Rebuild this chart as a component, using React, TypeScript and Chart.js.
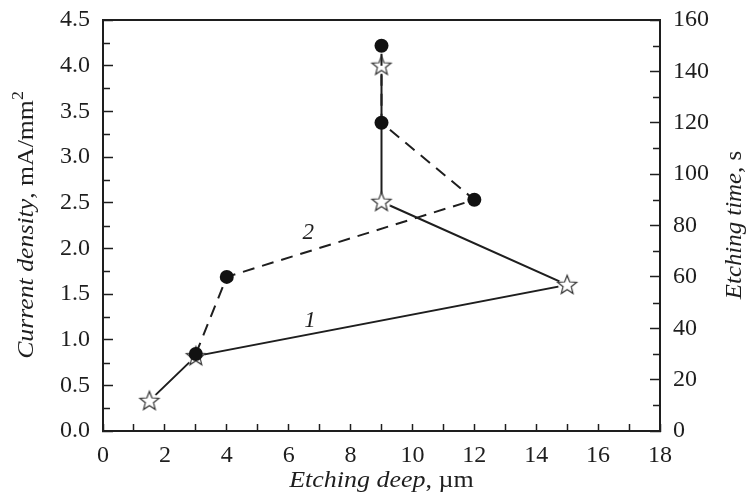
import React, { useEffect, useRef } from "react";
import { Chart, registerables } from "chart.js";

Chart.register(...registerables);

const depth1 = [1.5, 3, 15, 9, 9];
const current1 = [0.33, 0.82, 1.6, 2.51, 4.0];
const depth2 = [3, 4, 12, 9, 9];
const time2 = [30, 60, 90, 120, 150];
const xTicksMajor = [0, 2, 4, 6, 8, 10, 12, 14, 16, 18];
const leftMinor = [0.25, 0.75, 1.25, 1.75, 2.25, 2.75, 3.25, 3.75, 4.25];
const rightMinor = [10, 30, 50, 70, 90, 110, 130, 150];
const seriesLabels = [
  { text: "1", x: 6.69, y: 1.21 },
  { text: "2", x: 6.63, y: 2.17 },
];

const FONT = '"Liberation Serif", "Times New Roman", serif';
const INK = "#1e1e1e";
const FS = 23;
const TICK_FS = 24;

function makeStar(): HTMLCanvasElement {
  const c = document.createElement("canvas");
  const s = 26;
  c.width = s;
  c.height = s;
  const ctx = c.getContext("2d")!;
  const cx = s / 2, cy = s / 2 + 0.5;
  ctx.fillStyle = "#fff";
  ctx.beginPath();
  ctx.arc(cx, cy, 9, 0, Math.PI * 2);
  ctx.fill();
  const R = 10, r = 4.3;
  ctx.beginPath();
  for (let i = 0; i < 10; i++) {
    const rad = i % 2 === 0 ? R : r;
    const a = -Math.PI / 2 + (i * Math.PI) / 5;
    const px = cx + rad * Math.cos(a);
    const py = cy + rad * Math.sin(a);
    if (i === 0) ctx.moveTo(px, py);
    else ctx.lineTo(px, py);
  }
  ctx.closePath();
  ctx.fillStyle = "#fff";
  ctx.fill();
  ctx.strokeStyle = "#333";
  ctx.lineWidth = 1.2;
  ctx.stroke();
  return c;
}

type Part = { t: string; italic?: boolean; sup?: boolean };

function drawMixed(ctx: CanvasRenderingContext2D, parts: Part[], x: number, y: number, rot: number, size: number, stretch: number) {
  ctx.save();
  ctx.translate(x, y);
  ctx.rotate(rot);
  ctx.scale(stretch, 1);
  ctx.fillStyle = INK;
  ctx.textBaseline = "middle";
  ctx.textAlign = "left";
  const fontOf = (p: Part) => `${p.italic ? "italic " : ""}${p.sup ? Math.round(size * 0.68) : size}px ${FONT}`;
  let total = 0;
  const widths = parts.map((p) => {
    ctx.font = fontOf(p);
    const w = ctx.measureText(p.t).width;
    total += w;
    return w;
  });
  let cx = -total / 2;
  parts.forEach((p, i) => {
    ctx.font = fontOf(p);
    ctx.fillText(p.t, cx, p.sup ? -size * 0.36 : 0);
    cx += widths[i];
  });
  ctx.restore();
}

const decorPlugin = {
  id: "decor",
  afterDraw(chart: any) {
    const ctx: CanvasRenderingContext2D = chart.ctx;
    const { left, right, top } = chart.chartArea;
    const yL = chart.scales.y;
    const yR = chart.scales.yR;
    ctx.save();
    ctx.strokeStyle = INK;
    ctx.lineWidth = 2;
    ctx.beginPath();
    ctx.moveTo(left - 1, top);
    ctx.lineTo(right + 1, top);
    ctx.stroke();
    ctx.lineWidth = 1.5;
    ctx.beginPath();
    leftMinor.forEach((v) => {
      const py = Math.round(yL.getPixelForValue(v)) + 0.5;
      ctx.moveTo(left, py);
      ctx.lineTo(left + 7, py);
    });
    rightMinor.forEach((v) => {
      const py = Math.round(yR.getPixelForValue(v)) + 0.5;
      ctx.moveTo(right, py);
      ctx.lineTo(right - 7, py);
    });
    ctx.stroke();
    ctx.restore();

    const xs = chart.scales.x;
    ctx.save();
    ctx.fillStyle = INK;
    ctx.font = `italic ${FS}px ${FONT}`;
    ctx.textAlign = "center";
    ctx.textBaseline = "middle";
    seriesLabels.forEach((l) => {
      ctx.fillText(l.text, xs.getPixelForValue(l.x), yL.getPixelForValue(l.y));
    });
    ctx.restore();

    drawMixed(ctx, [{ t: "Etching deep", italic: true }, { t: ", \u00b5m" }], (left + right) / 2, 481, 0, FS, 1.13);
    drawMixed(ctx, [{ t: "Current density", italic: true }, { t: ", mA/mm" }, { t: "2", sup: true }], 27, 225, -Math.PI / 2, FS, 1.12);
    drawMixed(ctx, [{ t: "Etching time", italic: true }, { t: ", s" }], 735, 225, -Math.PI / 2, FS, 1.08);
  },
};

const noPadY = (w: number) => (s: any) => {
  s.width = w;
  s.paddingTop = 0;
  s.paddingBottom = 0;
};

export default function App() {
  const ref = useRef<HTMLCanvasElement>(null);
  useEffect(() => {
    const star = makeStar();
    const tickFont = { family: FONT, size: TICK_FS };
    const chart = new Chart(ref.current!, {
      type: "line",
      data: {
        datasets: [
          {
            label: "1",
            data: depth1.map((x, i) => ({ x, y: current1[i] })),
            yAxisID: "y",
            borderColor: INK,
            borderWidth: 2,
            pointStyle: star as any,
            pointRadius: 10,
            order: 1,
          },
          {
            label: "2",
            data: depth2.map((x, i) => ({ x, y: time2[i] })),
            yAxisID: "yR",
            borderColor: INK,
            borderWidth: 2,
            borderDash: [12, 8],
            pointStyle: "circle",
            pointRadius: 7,
            pointBackgroundColor: "#111",
            pointBorderWidth: 0,
            order: 0,
          },
        ],
      },
      options: {
        animation: false,
        responsive: false,
        maintainAspectRatio: false,
        layout: { padding: { top: 20, left: 0, right: 0, bottom: 0 } },
        plugins: { legend: { display: false }, tooltip: { enabled: false } },
        scales: {
          x: {
            type: "linear",
            min: 0,
            max: 18,
            afterFit: (s: any) => {
              s.height = 71;
              s.paddingLeft = 0;
              s.paddingRight = 0;
            },
            afterBuildTicks: (s: any) => {
              const t: any[] = [];
              for (let v = 0; v <= 18; v++) t.push({ value: v });
              s.ticks = t;
            },
            ticks: {
              autoSkip: false,
              maxRotation: 0,
              color: INK,
              font: tickFont,
              padding: 17,
              callback: (v: any) => (xTicksMajor.includes(Number(v)) ? String(v) : ""),
            },
            grid: { drawOnChartArea: false, drawTicks: true, tickLength: -7, tickWidth: 1.5, tickColor: INK },
            border: { display: true, width: 2, color: INK },
          },
          y: {
            type: "linear",
            position: "left",
            min: 0,
            max: 4.5,
            afterFit: noPadY(103),
            ticks: {
              stepSize: 0.5,
              color: INK,
              font: tickFont,
              padding: 23,
              callback: (v: any) => Number(v).toFixed(1),
            },
            grid: { drawOnChartArea: false, drawTicks: true, tickLength: -10, tickWidth: 1.5, tickColor: INK },
            border: { display: true, width: 2, color: INK },
          },
          yR: {
            type: "linear",
            position: "right",
            min: 0,
            max: 160,
            afterFit: noPadY(87),
            ticks: {
              stepSize: 20,
              color: INK,
              font: tickFont,
              padding: 23,
            },
            grid: { drawOnChartArea: false, drawTicks: true, tickLength: -10, tickWidth: 1.5, tickColor: INK },
            border: { display: true, width: 2, color: INK },
          },
        },
      } as any,
      plugins: [decorPlugin],
    });
    return () => {
      chart.destroy();
    };
  }, []);
  return (
    <div style={{ position: "fixed", left: 0, top: 0, width: 747, height: 502, background: "#fff" }}>
      <canvas ref={ref} width={747} height={502} style={{ width: 747, height: 502, display: "block" }} />
    </div>
  );
}
